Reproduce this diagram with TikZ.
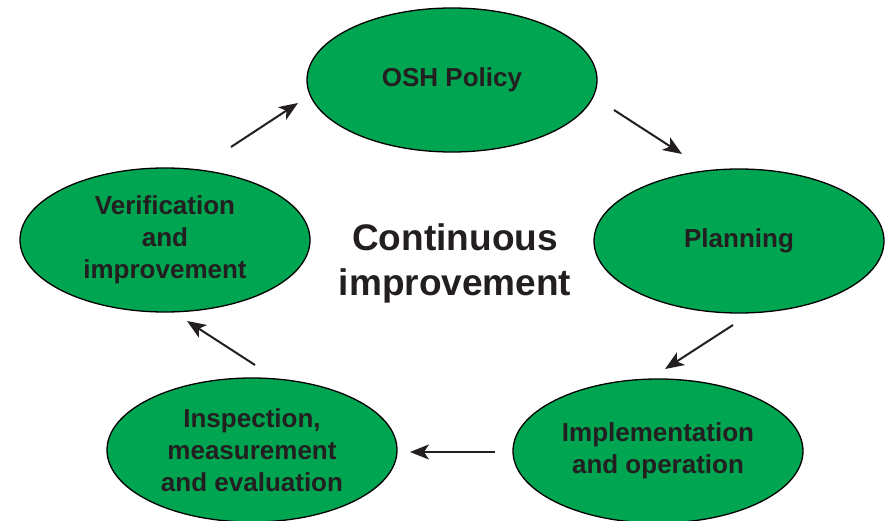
\documentclass[tikz,border=0pt]{standalone}
\usepackage{fontspec}
\setmainfont{Liberation Sans}
\usetikzlibrary{shapes.geometric,arrows.meta}
\definecolor{oshgreen}{HTML}{00A551}
\definecolor{inkgray}{HTML}{231F20}
\tikzset{
  stage/.style={ellipse, draw=black, line width=1.3pt, fill=oshgreen,
    minimum width=290pt, minimum height=144pt, inner sep=0pt, align=center,
    text=inkgray, font=\bfseries\fontsize{26}{32}\selectfont},
  flow/.style={line width=2pt, draw=inkgray,
    -{Stealth[length=19pt,width=15pt,inset=5pt]}},
  centre/.style={align=center, text=inkgray, font=\bfseries\fontsize{37}{45}\selectfont}
}
\begin{document}
\begin{tikzpicture}[x=1pt,y=-1pt]
\useasboundingbox (0,0) rectangle (890,521);
\node[stage] (osh) at (452,80) {OSH Policy};
\node[stage] (plan) at (739,241) {Planning};
\node[stage] (impl) at (658,451) {Implementation\\and operation};
\node[stage] (insp) at (252,450) {Inspection,\\measurement\\and evaluation};
\node[stage] (verif) at (165,240) {Verification\\and\\improvement};
\node[centre] (cont) at (455,263) {Continuous\\improvement};
\coordinate (a1s) at (231,147); \coordinate (a1e) at (298,103);
\coordinate (a2s) at (614,110); \coordinate (a2e) at (682,154);
\coordinate (a3s) at (733,325); \coordinate (a3e) at (665,369);
\coordinate (a4s) at (495,452); \coordinate (a4e) at (410,452);
\coordinate (a5s) at (255,365); \coordinate (a5e) at (187,321);
\draw[flow] (a1s) -- (a1e);
\draw[flow] (a2s) -- (a2e);
\draw[flow] (a3s) -- (a3e);
\draw[flow] (a4s) -- (a4e);
\draw[flow] (a5s) -- (a5e);
\end{tikzpicture}
\end{document}
